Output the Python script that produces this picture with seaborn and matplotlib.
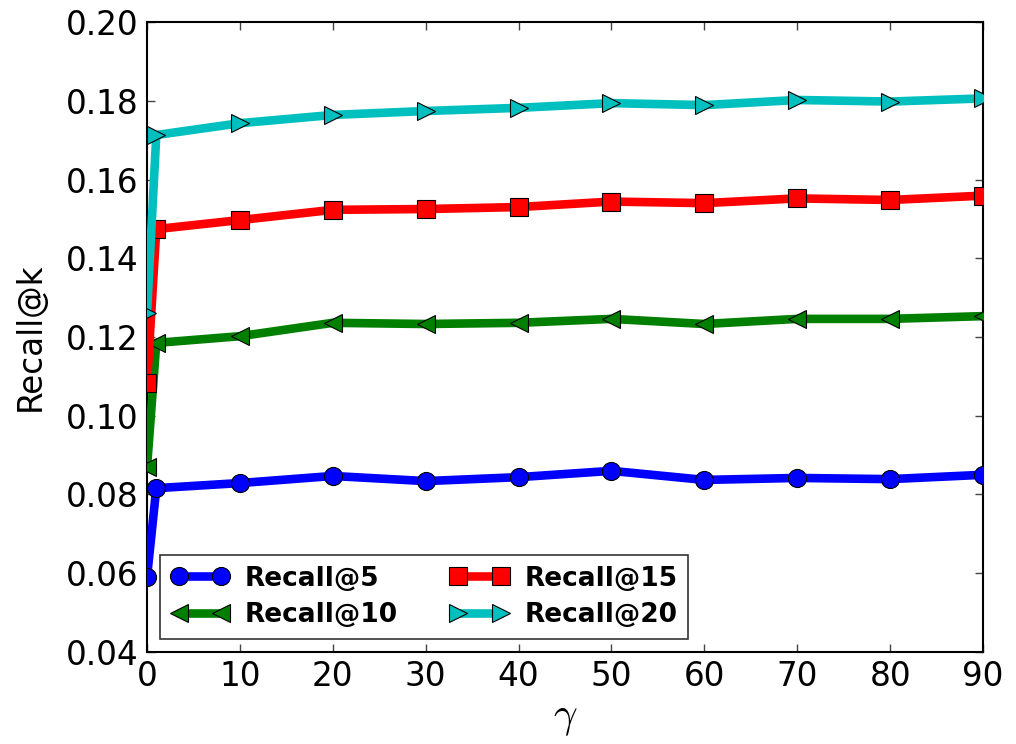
import matplotlib
matplotlib.use("Agg")
import matplotlib.pyplot as plt
import seaborn as sns
import pandas as pd

gamma = [0, 1, 10, 20, 30, 40, 50, 60, 70, 80, 90]
recall5 = [0.0590, 0.0816, 0.0829, 0.0847, 0.0834, 0.0844, 0.0860, 0.0837, 0.0842, 0.0839, 0.0850]
recall10 = [0.0870, 0.1185, 0.1202, 0.1236, 0.1233, 0.1236, 0.1246, 0.1233, 0.1246, 0.1246, 0.1253]
recall15 = [0.1083, 0.1474, 0.1497, 0.1523, 0.1525, 0.1530, 0.1544, 0.1540, 0.1552, 0.1548, 0.1559]
recall20 = [0.1261, 0.1713, 0.1743, 0.1764, 0.1774, 0.1782, 0.1794, 0.1789, 0.1802, 0.1798, 0.1806]

series_names = ["Recall@5", "Recall@10", "Recall@15", "Recall@20"]
series_vals = [recall5, recall10, recall15, recall20]
colors = ["#0000ff", "#007f00", "#ff0000", "#00bfbf"]
markers = ["o", "<", "s", ">"]

sns.set_style("white")
plt.rcParams["font.family"] = ["DejaVu Sans"]
plt.rcParams["mathtext.fontset"] = "cm"
plt.rcParams["text.color"] = "black"
plt.rcParams["axes.labelcolor"] = "black"
plt.rcParams["xtick.color"] = "black"
plt.rcParams["ytick.color"] = "black"

fig = plt.figure(figsize=(10.16, 7.44), dpi=100)
ax = fig.add_axes([0.1447, 0.1237, 0.8228, 0.8467])

for name, vals, c, m in zip(series_names, series_vals, colors, markers):
    df = pd.DataFrame({"gamma": gamma, "recall": vals})
    sns.lineplot(data=df, x="gamma", y="recall", ax=ax, color=c, marker=m,
                 markersize=13, markeredgecolor="black", markeredgewidth=0.8,
                 linewidth=6.2, label=name, zorder=3)

ax.set_xlim(0, 90)
ax.set_ylim(0.04, 0.20)
ax.set_xticks(range(0, 91, 10))
ax.set_yticks([0.04, 0.06, 0.08, 0.10, 0.12, 0.14, 0.16, 0.18, 0.20])
ax.set_yticklabels(["%.2f" % v for v in ax.get_yticks()])
ax.tick_params(axis="both", labelsize=23.5, length=6, width=1, colors="black",
               top=True, right=True, bottom=True, left=True, direction="in", pad=6)
ax.tick_params(axis="both", color="#444444")
for s in ax.spines.values():
    s.set_visible(True)
    s.set_color("black")
    s.set_linewidth(1.5)

ax.set_xlabel(r"$\gamma$", fontsize=30, labelpad=2)
ax.set_ylabel("Recall@k", fontsize=23.5, labelpad=14)

leg = ax.legend(loc="lower left", ncol=2, numpoints=2, frameon=True, fancybox=False,
                prop={"weight": "bold", "size": 19}, handlelength=2.2,
                columnspacing=2.0, borderaxespad=0.5, handletextpad=0.6,
                labelspacing=0.4)
leg.get_frame().set_edgecolor("black")
leg.get_frame().set_linewidth(1.2)
for t in leg.get_texts():
    t.set_color("black")
leg.set_zorder(5)

fig.savefig("out.png", dpi=100)
